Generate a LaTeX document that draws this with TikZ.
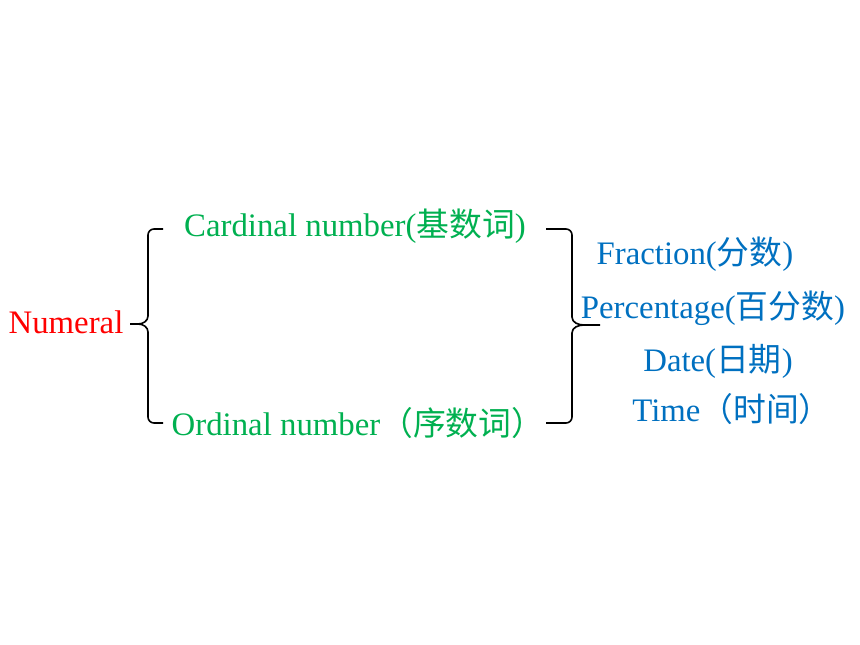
\documentclass[tikz,border=0pt]{standalone}
\usepackage{fontspec}
\setmainfont{Liberation Serif}
\newfontfamily\cjk{Noto Sans CJK SC}
\definecolor{grn}{RGB}{0,176,80}
\definecolor{blu}{RGB}{0,112,192}
\begin{document}
\begin{tikzpicture}[x=0.03cm,y=-0.03cm,
  lbl/.style={font=\fontsize{28}{30}\selectfont, inner sep=0pt},
  br/.style={line width=1.4pt}]
\useasboundingbox (0,0) rectangle (860,645);
\node[lbl,text=red] (num) at (66,322) {Numeral};
\node[lbl,text=grn] (card) at (355,226) {Cardinal number({\cjk 基数词})};
\node[lbl,text=grn] (ord) at (358,423) {Ordinal number{\cjk （序数词）}};
\node[lbl,text=blu] (fra) at (695,254) {Fraction({\cjk 分数})};
\node[lbl,text=blu] (per) at (713,308) {Percentage({\cjk 百分数})};
\node[lbl,text=blu] (dat) at (718,361) {Date({\cjk 日期})};
\node[lbl,text=blu] (tim) at (732,409) {Time{\cjk （时间）}};
\draw[br] (163,229) -- (154,229) to[out=180,in=90] (148,235) -- (148,316)
  to[out=-90,in=0] (138,324) -- (130,324) (138,324) to[out=0,in=90] (148,332) -- (148,417)
  to[out=-90,in=180] (154,423) -- (163,423);
\draw[br] (546,229) -- (566,229) to[out=0,in=90] (572,235) -- (572,317)
  to[out=-90,in=180] (584,325) -- (600,325) (584,325) to[out=180,in=90] (572,333) -- (572,417)
  to[out=-90,in=0] (566,423) -- (546,423);
\end{tikzpicture}
\end{document}
